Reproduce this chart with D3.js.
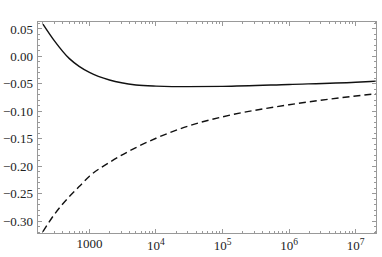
<!DOCTYPE html>
<html>
<head>
<meta charset="utf-8">
<script src="https://cdn.jsdelivr.net/npm/d3@7"></script>
<style>
  html, body { margin: 0; padding: 0; background: #fff; }
  .tick-label { font-family: "Liberation Serif", "DejaVu Serif", serif; font-size: 13px; fill: #222; }
</style>
</head>
<body>
<div id="chart"></div>
<script>
// chart data
const energies = [200, 300, 500, 700, 1000, 2000, 5000, 1e4, 3e4, 1e5, 1e6, 1e7, 2e7];
const solidValues = [0.059, 0.028, -0.004, -0.018, -0.029, -0.043, -0.052, -0.054, -0.055, -0.0545, -0.051, -0.047, -0.045];
const dashedValues = [-0.319, -0.287, -0.255, -0.237, -0.218, -0.193, -0.166, -0.149, -0.127, -0.110, -0.088, -0.072, -0.068];

const yTicks = [0.05, 0.00, -0.05, -0.10, -0.15, -0.20, -0.25, -0.30];
const xTicks = [1000, 1e4, 1e5, 1e6, 1e7];
const xTickLabels = ["1000", "10^4", "10^5", "10^6", "10^7"];

const width = 382, height = 257;
const frameL = 37, frameR = 376, frameT = 21, frameB = 233;

const svg = d3.select("#chart").append("svg")
    .attr("width", width)
    .attr("height", height);

const x = d3.scaleLog()
    .domain([163, 2.02e7])
    .range([frameL, frameR]);

const y = d3.scaleLinear()
    .domain([-0.3215, 0.0645])
    .range([frameB, frameT]);

const frameColor = "#999";

// minor ticks
const xMinor = [];
for (let k = 2; k <= 7; k++) {
    for (let m = 1; m <= 9; m++) {
        const v = m * Math.pow(10, k);
        if (v >= x.domain()[0] && v <= x.domain()[1] && !xTicks.includes(v)) xMinor.push(v);
    }
}
const yMinor = d3.range(-32, 7).map(d => d / 100).filter(d => Math.abs(Math.round(d * 100) % 5) !== 0);

const frame = svg.append("g");

function drawTicks(values, len, side) {
    values.forEach(v => {
        let x1, y1, x2, y2;
        if (side === "bottom") { x1 = x2 = x(v); y1 = frameB; y2 = frameB - len; }
        if (side === "top") { x1 = x2 = x(v); y1 = frameT; y2 = frameT + len; }
        if (side === "left") { y1 = y2 = y(v); x1 = frameL; x2 = frameL + len; }
        if (side === "right") { y1 = y2 = y(v); x1 = frameR; x2 = frameR - len; }
        frame.append("line")
            .attr("x1", x1).attr("y1", y1).attr("x2", x2).attr("y2", y2)
            .attr("stroke", frameColor).attr("stroke-width", 1)
            .attr("shape-rendering", "crispEdges");
    });
}

["bottom", "top"].forEach(s => { drawTicks(xTicks, 4.5, s); drawTicks(xMinor, 2.5, s); });
["left", "right"].forEach(s => { drawTicks(yTicks, 4.5, s); drawTicks(yMinor, 2.5, s); });

frame.append("rect")
    .attr("x", frameL).attr("y", frameT)
    .attr("width", frameR - frameL).attr("height", frameB - frameT)
    .attr("fill", "none")
    .attr("stroke", frameColor)
    .attr("stroke-width", 1)
    .attr("shape-rendering", "crispEdges");

// tick labels
svg.append("g").selectAll("text")
    .data(yTicks)
    .join("text")
    .attr("class", "tick-label")
    .attr("x", frameL - 4)
    .attr("y", d => y(d))
    .attr("dy", "0.35em")
    .attr("text-anchor", "end")
    .text(d => (d < 0 ? "\u2212" : "") + Math.abs(d).toFixed(2));

const xl = svg.append("g");
xTicks.forEach((v, i) => {
    const lab = xTickLabels[i];
    const t = xl.append("text")
        .attr("class", "tick-label")
        .attr("x", x(v))
        .attr("text-anchor", "middle");
    if (lab.includes("^")) {
        const [b, e] = lab.split("^");
        t.attr("y", frameB + 17);
        t.append("tspan").text(b);
        t.append("tspan").attr("dy", -5).attr("font-size", "9.5px").text(e);
    } else {
        t.attr("y", frameB + 15).text(lab);
    }
});

// curves
const line = d3.line()
    .x(d => x(d[0]))
    .y(d => y(d[1]))
    .curve(d3.curveMonotoneX);

svg.append("path")
    .datum(d3.zip(energies, solidValues))
    .attr("d", line)
    .attr("fill", "none")
    .attr("stroke", "#111")
    .attr("stroke-width", 1.4);

svg.append("path")
    .datum(d3.zip(energies, dashedValues))
    .attr("d", line)
    .attr("fill", "none")
    .attr("stroke", "#111")
    .attr("stroke-width", 1.4)
    .attr("stroke-dasharray", "7,4");
</script>
</body>
</html>
